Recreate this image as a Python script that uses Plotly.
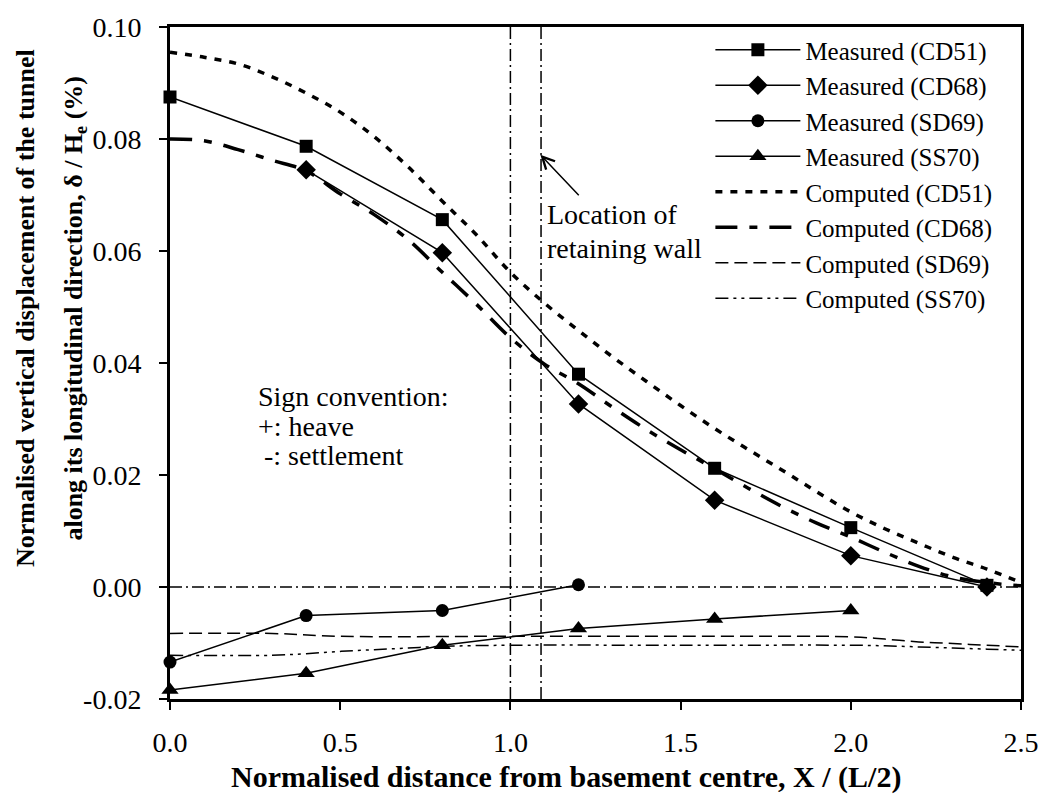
import plotly.graph_objects as go

# ---------------- data ----------------
MX = [0.0, 0.4, 0.8, 1.2, 1.6, 2.0, 2.4]
M_CD51 = [0.0875, 0.0787, 0.0656, 0.0380, 0.0212, 0.0106, 0.0003]
MX_CD68 = [0.4, 0.8, 1.2, 1.6, 2.0, 2.4]
M_CD68 = [0.0745, 0.0597, 0.0327, 0.0155, 0.0056, 0.0000]
MX_SD69 = [0.0, 0.4, 0.8, 1.2]
M_SD69 = [-0.0134, -0.0051, -0.0042, 0.0004]
MX_SS70 = [0.0, 0.4, 0.8, 1.2, 1.6, 2.0]
M_SS70 = [-0.0184, -0.0154, -0.0104, -0.0074, -0.0057, -0.0042]

CX = [0.0, 0.1, 0.2, 0.3, 0.4, 0.5, 0.6, 0.7, 0.8, 0.9, 1.0, 1.1, 1.2,
      1.3, 1.4, 1.5, 1.6, 1.7, 1.8, 1.9, 2.0, 2.1, 2.2, 2.3, 2.4, 2.5]
C_CD51 = [0.0955, 0.0946, 0.0934, 0.0911, 0.0882, 0.0848, 0.0804, 0.0750,
          0.0689, 0.0629, 0.0562, 0.0507, 0.0458, 0.0411, 0.0367, 0.0324,
          0.0283, 0.0245, 0.0208, 0.0170, 0.0134, 0.0104, 0.0078, 0.0053,
          0.0032, 0.0008]
C_CD68 = [0.0800, 0.0797, 0.0781, 0.0762, 0.0743, 0.0702, 0.0665, 0.0620,
          0.0562, 0.0505, 0.0445, 0.0398, 0.0363, 0.0321, 0.0281, 0.0245,
          0.0211, 0.0176, 0.0143, 0.0114, 0.0089, 0.0062, 0.0037, 0.0018,
          0.0008, 0.0002]
CX_SD69 = [0.0, 0.3, 0.5, 1.0, 1.5, 2.0, 2.1, 2.2, 2.3, 2.4, 2.5]
C_SD69 = [-0.0083, -0.0083, -0.0088, -0.0088, -0.0088, -0.0089, -0.0093,
          -0.0098, -0.0101, -0.0104, -0.0107]
CX_SS70 = [0.0, 0.3, 0.4, 0.5, 0.6, 0.7, 0.8, 1.0, 1.5, 2.0, 2.1, 2.2, 2.3, 2.4, 2.5]
C_SS70 = [-0.0122, -0.0122, -0.0119, -0.0115, -0.0112, -0.0109, -0.0106,
          -0.0104, -0.0104, -0.0104, -0.0105, -0.0107, -0.0109, -0.0111, -0.0113]

WALL_X = [1.0, 1.09]
ZERO_Y = 0.0

X_TICKS = [0.0, 0.5, 1.0, 1.5, 2.0, 2.5]
X_TICKTEXT = ["0.0", "0.5", "1.0", "1.5", "2.0", "2.5"]
Y_TICKS = [-0.02, 0.00, 0.02, 0.04, 0.06, 0.08, 0.10]
Y_TICKTEXT = ["-0.02", "0.00", "0.02", "0.04", "0.06", "0.08", "0.10"]

X_TITLE = "Normalised distance from basement centre, X / (L/2)"
Y_TITLE_1 = "Normalised vertical displacement of the tunnel"
Y_TITLE_2 = "along its longitudinal direction, δ / H<sub>e</sub> (%)"

# ---------------- figure ----------------
FONT = "Liberation Serif"
fig = go.Figure()

def measured(x, y, name, symbol, size):
    fig.add_trace(go.Scatter(
        x=x, y=y, name=name, mode="lines+markers", cliponaxis=False,
        line=dict(color="black", width=1.5),
        marker=dict(symbol=symbol, size=size, color="black")))

measured(MX, M_CD51, "Measured (CD51)", "square", 13)
measured(MX_CD68, M_CD68, "Measured (CD68)", "diamond", 15)
measured(MX_SD69, M_SD69, "Measured (SD69)", "circle", 13)
measured(MX_SS70, M_SS70, "Measured (SS70)", "triangle-up", 15)

def computed(x, y, name, dash, width):
    fig.add_trace(go.Scatter(
        x=x, y=y, name=name, mode="lines",
        line=dict(color="black", width=width, dash=dash, shape="spline")))

computed(CX, C_CD51, "Computed (CD51)", "7px,8px", 3.5)
computed(CX, C_CD68, "Computed (CD68)", "22px,12px,8px,12px", 3.5)
computed(CX_SD69, C_SD69, "Computed (SD69)", "13px,6px", 1.5)
computed(CX_SS70, C_SS70, "Computed (SS70)", "13px,5px,3px,5px,3px,5px", 1.5)

REF_DASH = "12px,4px,2px,4px"
for wx in WALL_X:
    fig.add_shape(type="line", xref="x", yref="paper", x0=wx, x1=wx, y0=0, y1=1,
                  line=dict(color="black", width=1.5, dash=REF_DASH))
fig.add_shape(type="line", xref="paper", yref="y", x0=0, x1=1, y0=ZERO_Y, y1=ZERO_Y,
              line=dict(color="black", width=1.5, dash=REF_DASH))

tf = dict(family=FONT, size=28, color="black")
ann = [
    dict(x=1.102, y=0.0665, text="Location of"),
    dict(x=1.102, y=0.0605, text="retaining wall"),
    dict(x=0.253, y=0.0340, text="Sign convention:"),
    dict(x=0.253, y=0.0287, text="+: heave"),
    dict(x=0.270, y=0.0234, text="-: settlement"),
]
for a in ann:
    fig.add_annotation(xref="x", yref="y", showarrow=False, xanchor="left",
                       yanchor="middle", font=tf, **a)
fig.add_annotation(xref="x", yref="y", x=1.088, y=0.0772, axref="x", ayref="y",
                   ax=1.205, ay=0.0697, text="", showarrow=True, arrowhead=5,
                   arrowsize=1.6, arrowwidth=1.5, arrowcolor="black")

# axis titles
fig.add_annotation(xref="paper", yref="paper", x=0.465, y=-0.116, showarrow=False,
                   xanchor="center", yanchor="middle", text="<b>" + X_TITLE + "</b>",
                   font=dict(family=FONT, size=30, color="black"))
fig.add_annotation(xref="paper", yref="paper", x=-0.169, y=0.582, showarrow=False,
                   xanchor="center", yanchor="middle", textangle=-90,
                   text="<b>" + Y_TITLE_1 + "</b>",
                   font=dict(family=FONT, size=26, color="black"))
fig.add_annotation(xref="paper", yref="paper", x=-0.112, y=0.582, showarrow=False,
                   xanchor="center", yanchor="middle", textangle=-90,
                   text="<b>" + Y_TITLE_2 + "</b>",
                   font=dict(family=FONT, size=26, color="black"))

axis_common = dict(showline=True, linecolor="black", linewidth=3, mirror=True,
                   ticks="outside", ticklen=8, tickwidth=1.5, tickcolor="black",
                   showgrid=False, zeroline=False,
                   tickfont=dict(family=FONT, size=28, color="black"))

fig.update_layout(
    width=1051, height=798,
    margin=dict(l=170, r=21, t=19, b=99),
    paper_bgcolor="white", plot_bgcolor="white",
    showlegend=True,
    legend=dict(x=0.635, y=1.0, xanchor="left", yanchor="top",
                bgcolor="rgba(0,0,0,0)", itemwidth=85,
                font=dict(family=FONT, size=25, color="black"),
                tracegroupgap=0),
    xaxis=dict(range=[0, 2.5], tickvals=X_TICKS, ticktext=X_TICKTEXT,
               ticklabelstandoff=8, **axis_common),
    yaxis=dict(range=[-0.02, 0.10], tickvals=Y_TICKS, ticktext=Y_TICKTEXT,
               ticklabelstandoff=12, **axis_common),
)

fig.write_html("out.html")
